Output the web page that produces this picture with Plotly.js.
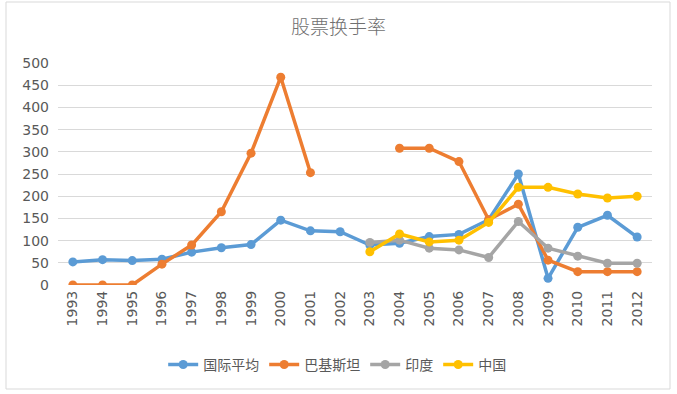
<!DOCTYPE html>
<html>
<head>
<meta charset="utf-8">
<script src="https://cdn.plot.ly/plotly-3.0.1.min.js"></script>
<style>html,body{margin:0;padding:0;background:#fff;}#chart{width:677px;height:394px;}</style>
</head>
<body>
<div id="chart"></div>
<script>
const years = ['1993','1994','1995','1996','1997','1998','1999','2000','2001','2002','2003','2004','2005','2006','2007','2008','2009','2010','2011','2012'];
const intlAvg = [52,57,55,58,74,84,91,146,122,120,90,94,109,114,147,250,15,130,157,108];
const pakistan = [0,0,0,47,90,165,297,468,253,null,null,308,308,278,147,182,56,30,30,30];
const india = [null,null,null,null,null,null,null,null,null,null,96,101,83,79,62,143,83,65,49,49];
const china = [null,null,null,null,null,null,null,null,null,null,75,115,97,101,141,220,220,205,196,200];
const seriesNames = ['国际平均','巴基斯坦','印度','中国'];
const colors = ['#5B9BD5','#ED7D31','#A5A5A5','#FFC000'];
const values = [intlAvg, pakistan, india, china];

const traces = values.map((v,i)=>({
  x: years, y: v, name: seriesNames[i], type:'scatter', mode:'lines+markers',
  line:{color:colors[i], width:3.5}, marker:{color:colors[i], size:9},
  connectgaps:false
}));

const layout = {
  width:677, height:394,
  margin:{l:58, r:25, t:63, b:109},
  paper_bgcolor:'#fff', plot_bgcolor:'#fff',
  title:{text:'股票换手率', x:0.5, xref:'container', xanchor:'center', y:0.93, yanchor:'middle', font:{family:'Noto Sans CJK SC', size:19, color:'#707070', weight:300}},
  xaxis:{type:'category', tickangle:-90, showgrid:false, zeroline:false, showline:false, ticks:'',
    tickfont:{family:'DejaVu Sans', size:14, color:'#595959'}, range:[-0.5,19.5], ticklabelstandoff:2},
  yaxis:{range:[0,500], dtick:50, showgrid:true, gridcolor:'#D9D9D9', gridwidth:1, zeroline:false, showline:false,
    tickfont:{family:'DejaVu Sans', size:14, color:'#595959'}, ticks:'', ticklabelstandoff:8},
  showlegend:true,
  legend:{orientation:'h', x:0.47, xanchor:'center', y:-0.36, yanchor:'middle',
    font:{family:'Noto Sans CJK SC', size:14, color:'#595959'}, tracegroupgap:0},
  shapes:[{type:'rect', xref:'paper', yref:'paper', x0:(6-58)/594, x1:(670-58)/594, y0:(285-389)/222, y1:(285-2)/222,
    line:{color:'#D9D9D9', width:1}, fillcolor:'rgba(0,0,0,0)', layer:'below'}]
};
Plotly.newPlot('chart', traces, layout, {displayModeBar:false, staticPlot:true});
</script>
</body>
</html>
